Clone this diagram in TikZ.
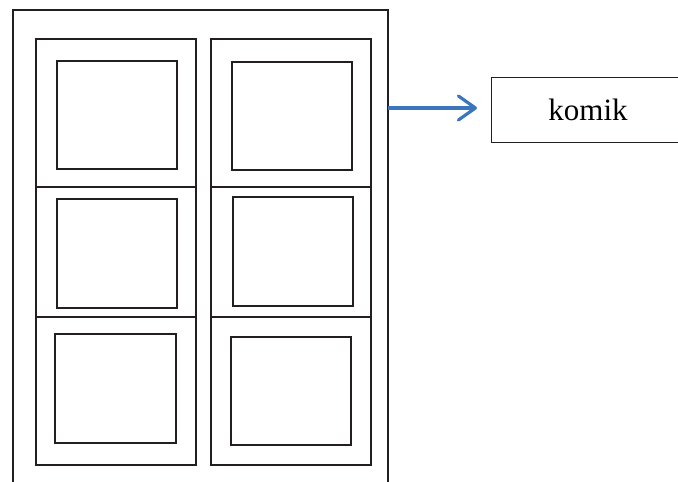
\documentclass[tikz,border=0pt]{standalone}
\usepackage{fontspec}
\setmainfont{Liberation Serif}
\usetikzlibrary{arrows.meta}
\definecolor{ink}{HTML}{231F20}
\definecolor{arrowblue}{HTML}{3B76BD}
\begin{document}
\begin{tikzpicture}[x=1pt,y=-1pt,
  panel/.style={draw=ink,line width=1.2pt,inner sep=0pt,outer sep=0pt,
    minimum width=160pt},
  picbox/.style={draw=ink,line width=1.2pt,inner sep=0pt,outer sep=0pt},
  label/.style={draw=ink,line width=1pt,inner sep=0pt,outer sep=0pt,
    minimum width=194pt,minimum height=65pt,
    font=\fontsize{31}{36}\selectfont},
  link/.style={draw=arrowblue,line width=3.2pt,
    -{Straight Barb[length=17pt,width=24pt,round]}}]
\useasboundingbox (0,0) rectangle (678,482);
\clip (0,0) rectangle (678,482);

% page outline, running off the bottom edge
\draw[ink,line width=1.3pt] (13,490) -- (13,10) -- (388,10) -- (388,490);
\coordinate (pageE) at (388,108);

% comic panels: two columns, three rows
\node[panel,minimum height=148pt] (p11) at (116,113) {};
\node[panel,minimum height=148pt] (p12) at (291,113) {};
\node[panel,minimum height=130pt] (p21) at (116,252) {};
\node[panel,minimum height=130pt] (p22) at (291,252) {};
\node[panel,minimum height=148pt] (p31) at (116,391) {};
\node[panel,minimum height=148pt] (p32) at (291,391) {};

% picture frames inside each panel
\node[picbox,minimum width=120pt,minimum height=108pt] (f11) at (117,115) {};
\node[picbox,minimum width=120pt,minimum height=108pt] (f12) at (292,116) {};
\node[picbox,minimum width=120pt,minimum height=109pt] (f21) at (117,253.5) {};
\node[picbox,minimum width=120pt,minimum height=109pt] (f22) at (293,251.5) {};
\node[picbox,minimum width=121pt,minimum height=109pt] (f31) at (115.5,388.5) {};
\node[picbox,minimum width=120pt,minimum height=108pt] (f32) at (291,391) {};

% label box and connector
\node[label] (komik) at (588,109.5) {komik};
\draw[link,shorten >=14pt] (pageE) -- (pageE -| komik.west);
\end{tikzpicture}
\end{document}
